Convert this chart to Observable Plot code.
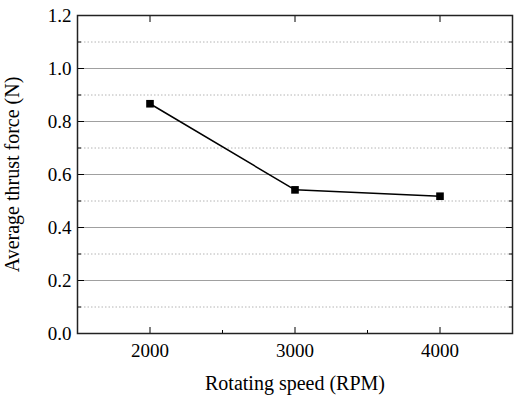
<!DOCTYPE html>
<html><head><meta charset="utf-8">
<script src="https://cdn.jsdelivr.net/npm/d3@7"></script>
<script src="https://cdn.jsdelivr.net/npm/@observablehq/plot@0.6"></script>
<style>
body{margin:0;background:#fff}
</style>
</head><body><div id="chart"></div>
<script>
const speeds = [2000, 3000, 4000];
const thrust = [0.867, 0.542, 0.518];
const xMajorTicks = [2000, 3000, 4000];
const xMinorTicks = [2500, 3500];
const yMajorTicks = [0, 0.2, 0.4, 0.6, 0.8, 1.0, 1.2];
const yMinorTicks = [0.1, 0.3, 0.5, 0.7, 0.9, 1.1];
const yGridMajor = [0.2, 0.4, 0.6, 0.8, 1.0];
const xLabel = "Rotating speed (RPM)";
const yLabel = "Average thrust force (N)";

const data = speeds.map((s, i) => ({speed: s, thrust: thrust[i]}));
const fmt = d3.format(".1f");
const font = "Liberation Serif";

const chart = Plot.plot({
  width: 519,
  height: 396,
  marginLeft: 77,
  marginRight: 7,
  marginTop: 15,
  marginBottom: 63,
  style: {fontFamily: font, fontSize: "19px", background: "#fff", color: "#000"},
  x: {domain: [1500, 4500]},
  y: {domain: [0, 1.2]},
  marks: [
    Plot.ruleY(yMinorTicks, {stroke: "#b4b4b4", strokeDasharray: "1.5,2"}),
    Plot.ruleY(yGridMajor, {stroke: "#a0a0a0"}),
    Plot.line(data, {x: "speed", y: "thrust", stroke: "#000", strokeWidth: 1.5}),
    Plot.dot(data, {x: "speed", y: "thrust", symbol: "square", r: 4.3, fill: "#000", stroke: "none"}),
    Plot.axisX(xMajorTicks, {anchor: "bottom", tickSize: -6, tickFormat: () => "", label: null}),
    Plot.axisX(xMinorTicks, {anchor: "bottom", tickSize: -3, tickFormat: () => "", label: null}),
    Plot.axisX(xMajorTicks, {anchor: "top", tickSize: -6, tickFormat: () => "", label: null}),
    Plot.axisY(yMajorTicks, {anchor: "left", tickSize: -7, tickFormat: () => "", label: null}),
    Plot.axisY(yMinorTicks, {anchor: "left", tickSize: -4, tickFormat: () => "", label: null}),
    Plot.axisY(yMajorTicks, {anchor: "right", tickSize: -7, tickFormat: () => "", label: null}),
    Plot.axisY(yMinorTicks, {anchor: "right", tickSize: -4, tickFormat: () => "", label: null}),
    Plot.frame({stroke: "#222", strokeWidth: 1.5}),
    Plot.text(xMajorTicks, {x: d => d, frameAnchor: "bottom", dy: 17, lineAnchor: "middle", textAnchor: "middle", text: d => String(d), fontSize: 19, fontFamily: font, fill: "#000"}),
    Plot.text(yMajorTicks, {y: d => d, frameAnchor: "left", dx: -6, lineAnchor: "middle", textAnchor: "end", text: d => fmt(d), fontSize: 19, fontFamily: font, fill: "#000"}),
    Plot.text([xLabel], {frameAnchor: "bottom", dy: 50, lineAnchor: "middle", textAnchor: "middle", fontSize: 20, fontFamily: font, fill: "#000"}),
    Plot.text([yLabel], {frameAnchor: "left", dx: -65, rotate: -90, textAnchor: "middle", lineAnchor: "middle", fontSize: 20, fontFamily: font, fill: "#000"})
  ]
});
document.getElementById("chart").appendChild(chart);
</script>
</body></html>
